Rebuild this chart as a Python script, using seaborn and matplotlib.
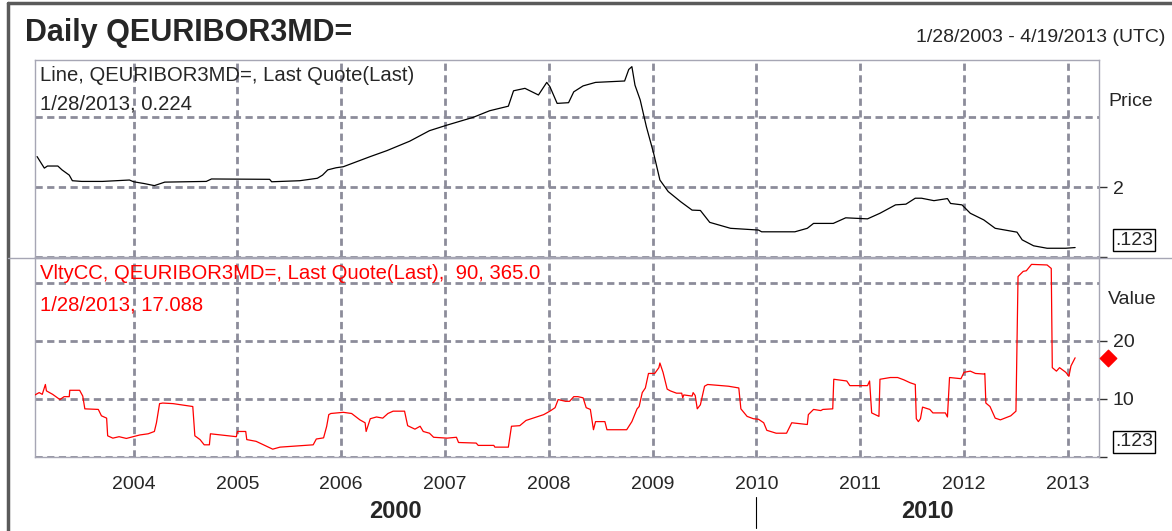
import pandas as pd
import seaborn as sns
import matplotlib.pyplot as plt
from matplotlib.lines import Line2D
from matplotlib.transforms import blended_transform_factory

#=========================
#Data
#=========================
price_year = [2003.07, 2003.11, 2003.14, 2003.17, 2003.27, 2003.31, 2003.38, 2003.41, 2003.50, 2003.70,
              2003.96, 2004.00, 2004.10, 2004.20, 2004.30, 2004.70, 2004.75, 2005.31, 2005.33, 2005.60,
              2005.77, 2005.82, 2005.87, 2005.95, 2006.02, 2006.28, 2006.44, 2006.66, 2006.85, 2007.02,
              2007.27, 2007.43, 2007.61, 2007.66, 2007.77, 2007.90, 2007.98, 2008.01, 2008.08, 2008.19,
              2008.24, 2008.33, 2008.45, 2008.73, 2008.77, 2008.80, 2008.83, 2008.88, 2008.94, 2009.01,
              2009.07, 2009.15, 2009.27, 2009.38, 2009.46, 2009.55, 2009.75, 2010.02, 2010.05, 2010.37,
              2010.49, 2010.55, 2010.74, 2010.86, 2011.07, 2011.19, 2011.34, 2011.44, 2011.53, 2011.59,
              2011.71, 2011.84, 2011.87, 2011.98, 2012.06, 2012.19, 2012.30, 2012.51, 2012.56, 2012.67,
              2012.80, 2012.98, 2013.07]
price_value = [2.87, 2.68, 2.54, 2.60, 2.60, 2.49, 2.34, 2.18, 2.16, 2.16,
               2.20, 2.15, 2.10, 2.04, 2.14, 2.16, 2.23, 2.22, 2.15, 2.18,
               2.25, 2.34, 2.49, 2.55, 2.58, 2.87, 3.04, 3.31, 3.61, 3.77,
               3.99, 4.18, 4.31, 4.75, 4.82, 4.63, 4.99, 4.87, 4.39, 4.41,
               4.72, 4.89, 4.99, 5.03, 5.36, 5.44, 4.91, 4.49, 3.72, 2.96,
               2.20, 1.87, 1.58, 1.34, 1.33, 0.99, 0.82, 0.77, 0.72, 0.72,
               0.82, 0.96, 0.96, 1.12, 1.09, 1.25, 1.49, 1.51, 1.68, 1.68,
               1.61, 1.67, 1.53, 1.49, 1.25, 1.06, 0.82, 0.71, 0.49, 0.32,
               0.25, 0.25, 0.27]

vol_year = [2003.03, 2003.09, 2003.12, 2003.15, 2003.16, 2003.22, 2003.29, 2003.33, 2003.38, 2003.385,
            2003.48, 2003.51, 2003.53, 2003.66, 2003.69, 2003.74, 2003.75, 2003.80, 2003.86, 2003.93,
            2004.06, 2004.14, 2004.20, 2004.22, 2004.25, 2004.28, 2004.38, 2004.57, 2004.59, 2004.64,
            2004.68, 2004.73, 2004.74, 2004.99, 2005.00, 2005.08, 2005.09, 2005.18, 2005.34, 2005.41,
            2005.73, 2005.76, 2005.83, 2005.86, 2005.88, 2005.90, 2006.02, 2006.10, 2006.18, 2006.23,
            2006.24, 2006.28, 2006.34, 2006.40, 2006.45, 2006.50, 2006.61, 2006.64, 2006.71, 2006.76,
            2006.79, 2006.85, 2006.89, 2007.02, 2007.11, 2007.13, 2007.30, 2007.32, 2007.47, 2007.48,
            2007.61, 2007.64, 2007.72, 2007.78, 2007.88, 2007.95, 2008.01, 2008.06, 2008.09, 2008.16,
            2008.20, 2008.24, 2008.28, 2008.33, 2008.36, 2008.40, 2008.43, 2008.45, 2008.54, 2008.56,
            2008.75, 2008.80, 2008.82, 2008.85, 2008.87, 2008.90, 2008.93, 2008.96, 2009.02, 2009.06,
            2009.07, 2009.10, 2009.14, 2009.17, 2009.23, 2009.28, 2009.29, 2009.30, 2009.38, 2009.39,
            2009.41, 2009.43, 2009.46, 2009.50, 2009.53, 2009.73, 2009.83, 2009.85, 2009.91, 2009.97,
            2010.02, 2010.07, 2010.10, 2010.19, 2010.29, 2010.34, 2010.49, 2010.50, 2010.55, 2010.62,
            2010.64, 2010.735, 2010.745, 2010.87, 2010.90, 2011.07, 2011.09, 2011.11, 2011.18, 2011.19,
            2011.29, 2011.36, 2011.42, 2011.48, 2011.53, 2011.54, 2011.56, 2011.58, 2011.60, 2011.67,
            2011.70, 2011.82, 2011.84, 2011.86, 2011.97, 2012.00, 2012.06, 2012.11, 2012.19, 2012.20,
            2012.21, 2012.25, 2012.30, 2012.35, 2012.45, 2012.50, 2012.52, 2012.57, 2012.60, 2012.65,
            2012.80, 2012.84, 2012.85, 2012.89, 2012.92, 2012.98, 2013.01, 2013.03, 2013.07]
vol_value = [10.5, 11.1, 10.8, 12.5, 11.4, 10.8, 9.9, 10.4, 10.4, 11.5,
             11.5, 10.5, 8.3, 8.2, 7.1, 6.7, 3.65, 3.25, 3.5, 3.2,
             3.8, 4.0, 4.4, 5.9, 9.2, 9.3, 9.2, 8.7, 3.65, 3.0,
             2.1, 2.1, 4.0, 3.5, 4.4, 4.4, 3.0, 2.7, 1.35, 1.7,
             2.1, 3.1, 3.3, 5.3, 7.3, 7.5, 7.7, 7.5, 6.4, 5.9,
             4.4, 6.6, 6.9, 6.7, 7.5, 7.9, 7.9, 5.4, 4.8, 5.3,
             4.4, 4.1, 3.4, 3.25, 3.4, 2.5, 2.4, 2.0, 2.0, 1.7,
             1.7, 5.3, 5.4, 6.3, 6.9, 7.3, 7.9, 8.5, 9.9, 9.6,
             9.6, 10.4, 10.4, 10.2, 8.5, 8.2, 4.7, 6.1, 6.1, 4.7,
             4.7, 6.1, 7.0, 8.3, 8.7, 11.1, 11.9, 14.4, 14.4, 15.4,
             16.2, 14.6, 11.7, 11.4, 11.0, 11.0, 10.2, 10.7, 10.5, 11.1,
             10.6, 8.3, 9.0, 12.2, 12.5, 12.2, 11.9, 8.3, 7.0, 6.6,
             6.5, 5.9, 4.6, 4.1, 4.1, 5.9, 5.6, 7.3, 8.2, 8.0,
             8.2, 8.3, 13.4, 13.1, 12.3, 12.3, 13.1, 7.6, 7.0, 13.4,
             13.7, 13.7, 13.3, 12.8, 12.5, 6.6, 6.1, 6.6, 8.6, 8.2,
             7.6, 7.6, 6.9, 13.7, 13.5, 14.6, 14.8, 14.4, 14.3, 14.4,
             9.3, 8.7, 6.7, 6.4, 7.1, 7.9, 31.1, 32.0, 32.1, 33.2,
             33.1, 32.5, 15.4, 14.8, 15.4, 14.6, 13.9, 15.7, 17.1]

year_ticks = list(range(2004, 2014))
price_grid = [0, 2, 4]
price_ticks = [0, 2]
vol_grid = [0, 10, 20, 30]
vol_ticks = [0, 10, 20]
last_vol = 17.088
x_start = 2003.05   # 1/28/2003
x_end = 2013.30     # 4/19/2013

#=========================
#Style
#=========================
sns.set_style("white")
plt.rcParams["font.family"] = ["Liberation Sans", "DejaVu Sans"]

W, H = 1172, 531
grid_color = "#8c8c9a"
frame_color = "#a6a6b4"
dash = (0, (2.6, 1.6))

fig = plt.figure(figsize=(W / 100, H / 100), dpi=100)
ax1 = fig.add_axes([35 / W, 1 - 257 / H, 1064 / W, 197 / H])
ax2 = fig.add_axes([35 / W, 1 - 457 / H, 1064 / W, 199 / H])

price_df = pd.DataFrame({"year": price_year, "price": price_value})
vol_df = pd.DataFrame({"year": vol_year, "vol": vol_value})

sns.lineplot(data=price_df, x="year", y="price", ax=ax1, color="black",
             linewidth=0.9, estimator=None, sort=False, zorder=3)
sns.lineplot(data=vol_df, x="year", y="vol", ax=ax2, color="#ff0000",
             linewidth=0.9, estimator=None, sort=False, zorder=3)

for ax in (ax1, ax2):
    ax.set_xlim(x_start, x_end)
    ax.set_xlabel("")
    ax.set_ylabel("")
    for yr in year_ticks:
        ax.axvline(yr, color=grid_color, lw=2, linestyle=dash, zorder=1)
    for s in ax.spines.values():
        s.set_color(frame_color)
        s.set_linewidth(1)
    ax.yaxis.tick_right()
    ax.tick_params(axis="y", direction="out", length=6, width=1, color="#333333",
                   labelsize=14, pad=4)

ax1.set_ylim(0, 5.63)
for v in price_grid:
    ax1.axhline(v, color=grid_color, lw=2, linestyle=dash, zorder=1)
ax1.set_yticks(price_ticks)
ax1.set_yticklabels(["", "2"])
ax1.set_xticks([])

ax2.set_ylim(0, 34.3)
for v in vol_grid:
    ax2.axhline(v, color=grid_color, lw=2, linestyle=dash, zorder=1)
ax2.set_yticks(vol_ticks)
ax2.set_yticklabels(["", "10", "20"])
ax2.set_xticks(year_ticks)
ax2.set_xticklabels([str(y) for y in year_ticks])
ax2.tick_params(axis="x", direction="out", length=6, width=1, color="#333333",
                labelsize=14, pad=8)

# last value marker on the right of the volatility panel
tr = blended_transform_factory(ax2.transAxes, ax2.transData)
ax2.scatter([1.0085], [last_vol], marker="D", s=70, color="#ff0000",
            transform=tr, clip_on=False, zorder=5)

#=========================
#Texts
#=========================
fig.text(25 / W, 1 - 33 / H, "Daily QEURIBOR3MD=", fontsize=22, weight="bold", va="center")
fig.text(1165 / W, 1 - 37 / H, "1/28/2003 - 4/19/2013 (UTC)", fontsize=14, ha="right", va="center")

fig.text(40 / W, 1 - 76 / H, "Line, QEURIBOR3MD=, Last Quote(Last)", fontsize=14.6, va="center")
fig.text(40 / W, 1 - 104 / H, "1/28/2013, 0.224", fontsize=14.6, va="center")
fig.text(40 / W, 1 - 274 / H, "VltyCC, QEURIBOR3MD=, Last Quote(Last),  90, 365.0",
         fontsize=14.6, va="center", color="#ff0000")
fig.text(40 / W, 1 - 305 / H, "1/28/2013, 17.088", fontsize=14.6, va="center", color="#ff0000")

fig.text(1108 / W, 1 - 101 / H, "Price", fontsize=14, va="center")
fig.text(1108 / W, 1 - 299 / H, "Value", fontsize=14, va="center")
for yc in (240, 442):
    fig.text(1115 / W, 1 - yc / H, ".123", fontsize=14, va="center",
             bbox=dict(boxstyle="square,pad=0.12", fc="white", ec="black", lw=1))

# decade row under the year labels
tr_x = blended_transform_factory(ax2.transData, fig.transFigure)
fig.text((35 + 756) / 2 / W, 1 - 511 / H, "2000", fontsize=17, weight="bold", ha="center", va="center")
fig.text((756 + 1099) / 2 / W, 1 - 511 / H, "2010", fontsize=17, weight="bold", ha="center", va="center")
fig.add_artist(Line2D([2010, 2010], [1 - 497 / H, 1 - 528 / H], transform=tr_x,
                      color="black", lw=0.8))

# outer frame and panel separator
fig.add_artist(Line2D([8 / W, 8 / W], [0, 1 - 3 / H], color="#5a5a5a", lw=2.5))
fig.add_artist(Line2D([8 / W, 1], [1 - 3 / H, 1 - 3 / H], color="#5a5a5a", lw=2.5))
fig.add_artist(Line2D([8 / W, 1], [1 - 258 / H, 1 - 258 / H], color=frame_color, lw=1))

plt.savefig("out.png", dpi=100)
